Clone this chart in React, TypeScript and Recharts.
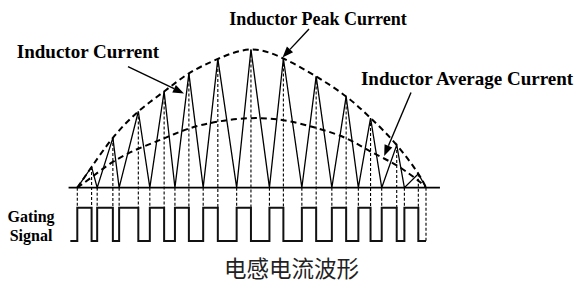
import React from 'react';
import { ComposedChart, Line, XAxis, YAxis, ReferenceLine } from 'recharts';

// time in ms over one half line-cycle, current in A (normalised)
const peakTimes = [0.41, 1.02, 1.75, 2.49, 3.2, 4.03, 4.98, 5.91, 6.85, 7.71, 8.41, 9.16, 9.78];
const peakCurrents = [1.49, 3.58, 5.48, 6.92, 8.22, 9.26, 9.94, 9.29, 8.0, 6.56, 5.01, 3.07, 1.0];
const valleyTimes = [0, 0.57, 1.2, 2.08, 2.8, 3.61, 4.57, 5.51, 6.44, 7.3, 8.06, 8.73, 9.38, 10.0];
const avgCurrents = [0.75, 1.85, 2.8, 3.55, 4.25, 4.75, 5.0, 4.85, 4.3, 3.55, 2.6, 1.6, 0.5];
const gateStartTime = -0.2;

const labelPeak = 'Inductor Peak Current';
const labelCurrent = 'Inductor Current';
const labelAverage = 'Inductor Average Current';
const labelGating = ['Gating', 'Signal'];
const title = '电感电流波形';

// annotation arrows: [tail, head] in (t, current)
const arrowCurrent = [{ t: 1.454, i: 8.7 }, { t: 3.06, i: 6.78 }];
const arrowPeak = [{ t: 6.645, i: 11.42 }, { t: 5.885, i: 9.37 }];
const arrowAverage = [{ t: 9.57, i: 6.85 }, { t: 8.8, i: 2.28 }];

const W = 578;
const H = 284;
const xDomain: [number, number] = [-0.25, 10.4];
const iDomain: [number, number] = [-6.93, 13.5];
const gDomain: [number, number] = [-1.29, 7.24];

const gateToCurrent = (g: number) => {
  const f = (gDomain[1] - g) / (gDomain[1] - gDomain[0]);
  return iDomain[1] - f * (iDomain[1] - iDomain[0]);
};

const waveform: { t: number; i: number }[] = [];
valleyTimes.forEach((vt, k) => {
  waveform.push({ t: vt, i: 0 });
  if (k < peakTimes.length) waveform.push({ t: peakTimes[k], i: peakCurrents[k] });
});

const peakEnvelope = [
  { t: valleyTimes[0], i: 0 },
  ...peakTimes.map((t, k) => ({ t, i: peakCurrents[k] })),
  { t: valleyTimes[valleyTimes.length - 1], i: 0 },
];
const avgEnvelope = [
  { t: valleyTimes[0], i: 0 },
  ...peakTimes.map((t, k) => ({ t, i: avgCurrents[k] })),
  { t: valleyTimes[valleyTimes.length - 1], i: 0 },
];

const gating: { t: number; g: number }[] = [{ t: gateStartTime, g: 0 }];
peakTimes.forEach((pt, k) => {
  gating.push({ t: valleyTimes[k], g: 1 });
  gating.push({ t: pt, g: 0 });
});
gating.push({ t: valleyTimes[valleyTimes.length - 1], g: 0 });

const arrowShape = (p: any) => {
  const { x1, y1, x2, y2 } = p;
  const ang = Math.atan2(y2 - y1, x2 - x1);
  const L = 11;
  const Wd = 4.2;
  const bx = x2 - L * Math.cos(ang);
  const by = y2 - L * Math.sin(ang);
  const px = -Math.sin(ang) * Wd;
  const py = Math.cos(ang) * Wd;
  return (
    <g>
      <line x1={x1} y1={y1} x2={bx} y2={by} stroke="#000" strokeWidth={1.4} />
      <polygon points={`${x2},${y2} ${bx + px},${by + py} ${bx - px},${by - py}`} fill="#000" />
    </g>
  );
};

const vDash = { stroke: '#000', strokeWidth: 1.1, strokeDasharray: '3 2' };

export default function App() {
  const gateHighI = gateToCurrent(1);
  const gateLowI = gateToCurrent(0);
  return (
    <div style={{ position: 'absolute', left: 0, top: 0, width: W, height: H, background: '#fff' }}>
      <ComposedChart width={W} height={H} margin={{ top: 0, right: 138.05, bottom: 0, left: 68.58 }}>
        <XAxis dataKey="t" type="number" domain={xDomain} allowDataOverflow hide />
        <YAxis yAxisId="i" type="number" domain={iDomain} allowDataOverflow hide />
        <YAxis yAxisId="g" type="number" domain={gDomain} allowDataOverflow hide />
        <ReferenceLine yAxisId="i" y={0} stroke="#000" strokeWidth={1.6} />
        {peakTimes.map((t, k) => (
          <ReferenceLine
            key={'pd' + k}
            yAxisId="i"
            segment={[{ x: t, y: peakCurrents[k] }, { x: t, y: gateHighI }]}
            {...vDash}
            ifOverflow="visible"
          />
        ))}
        {valleyTimes.slice(0, peakTimes.length).map((t, k) => (
          <ReferenceLine
            key={'vd' + k}
            yAxisId="i"
            segment={[{ x: t, y: 0 }, { x: t, y: gateHighI }]}
            {...vDash}
            ifOverflow="visible"
          />
        ))}
        <ReferenceLine
          yAxisId="i"
          segment={[{ x: valleyTimes[valleyTimes.length - 1], y: 0 }, { x: valleyTimes[valleyTimes.length - 1], y: gateLowI }]}
          {...vDash}
          ifOverflow="visible"
        />
        <Line yAxisId="i" data={peakEnvelope} dataKey="i" type="natural" stroke="#000" strokeWidth={2} strokeDasharray="6 4" dot={false} isAnimationActive={false} />
        <Line yAxisId="i" data={avgEnvelope} dataKey="i" type="natural" stroke="#000" strokeWidth={2} strokeDasharray="6 4" dot={false} isAnimationActive={false} />
        <Line yAxisId="i" data={waveform} dataKey="i" type="linear" stroke="#000" strokeWidth={1.3} dot={false} isAnimationActive={false} />
        <Line yAxisId="g" data={gating} dataKey="g" type="stepAfter" stroke="#111" strokeWidth={2} dot={false} isAnimationActive={false} />
        <ReferenceLine yAxisId="i" segment={[{ x: arrowCurrent[0].t, y: arrowCurrent[0].i }, { x: arrowCurrent[1].t, y: arrowCurrent[1].i }]} shape={arrowShape} ifOverflow="visible" />
        <ReferenceLine yAxisId="i" segment={[{ x: arrowPeak[0].t, y: arrowPeak[0].i }, { x: arrowPeak[1].t, y: arrowPeak[1].i }]} shape={arrowShape} ifOverflow="visible" />
        <ReferenceLine yAxisId="i" segment={[{ x: arrowAverage[0].t, y: arrowAverage[0].i }, { x: arrowAverage[1].t, y: arrowAverage[1].i }]} shape={arrowShape} ifOverflow="visible" />
      </ComposedChart>
      <svg width={W} height={H} style={{ position: 'absolute', left: 0, top: 0, pointerEvents: 'none' }}>
        <g fontFamily="'Liberation Serif', 'Times New Roman', serif" fontWeight="bold" fill="#000">
          <text x={318} y={25} fontSize={18} textAnchor="middle">{labelPeak}</text>
          <text x={88} y={58} fontSize={19} textAnchor="middle">{labelCurrent}</text>
          <text x={467} y={85} fontSize={19} textAnchor="middle">{labelAverage}</text>
          <text x={31} y={222} fontSize={16} textAnchor="middle">{labelGating[0]}</text>
          <text x={31} y={241} fontSize={16} textAnchor="middle">{labelGating[1]}</text>
        </g>
        <text x={291.5} y={277} fontSize={22.5} textAnchor="middle" fill="#222" fontFamily="'Noto Sans CJK SC', sans-serif">{title}</text>
      </svg>
    </div>
  );
}
